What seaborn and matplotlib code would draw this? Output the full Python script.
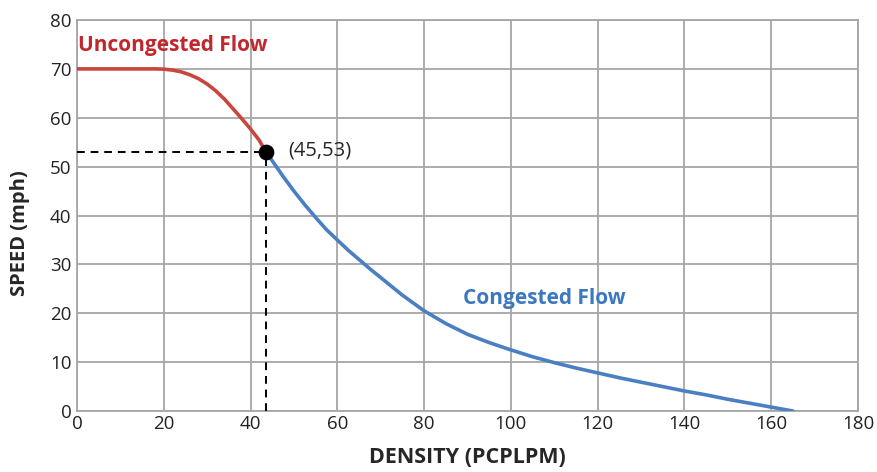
import numpy as np
import pandas as pd
import seaborn as sns
import matplotlib.pyplot as plt

# uncongested branch
red_density = [0, 18, 20, 22, 24, 26, 28, 30, 32, 34, 36, 38, 40, 42, 43.6]
red_speed = [70, 70, 69.95, 69.75, 69.4, 68.8, 68.0, 66.9, 65.5, 63.8, 61.8, 59.8, 57.7, 55.4, 52.9]

# congested branch
blue_density = [43.6, 45, 47.5, 50, 52.5, 55, 57.5, 60, 62.5, 65, 67.5, 70, 75, 80, 85, 90,
                95, 100, 105, 110, 115, 120, 125, 130, 135, 140, 145, 150, 155, 160, 165]
blue_speed = [52.9, 51.2, 48, 45, 42.2, 39.6, 37.1, 35, 32.9, 31, 29.1, 27.3, 23.7, 20.5,
              17.9, 15.7, 14.0, 12.5, 11.1, 9.9, 8.8, 7.8, 6.8, 5.9, 5, 4.1, 3.3, 2.4, 1.6, 0.8, 0]

# critical point
crit_density = [43.6]
crit_speed = [52.9]
crit_label = "(45,53)"

x_ticks = [0, 20, 40, 60, 80, 100, 120, 140, 160, 180]
y_ticks = [0, 10, 20, 30, 40, 50, 60, 70, 80]

sns.set_style("white")
plt.rcParams['font.family'] = ['Open Sans', 'DejaVu Sans']

red = '#C9463F'
blue = '#4A7FC3'
grid_col = '#A6A6A6'

fig = plt.figure(figsize=(8.78, 4.72), dpi=100)
ax = fig.add_axes([0.0877, 0.1292, 0.8895, 0.8284])

red_df = pd.DataFrame({'density': red_density, 'speed': red_speed})
blue_df = pd.DataFrame({'density': blue_density, 'speed': blue_speed})
crit_df = pd.DataFrame({'density': crit_density, 'speed': crit_speed})

# dashed guide lines to the critical point
ax.plot([0, crit_density[0]], [crit_speed[0], crit_speed[0]], color='black', ls=(0, (4, 3)), lw=1.4, zorder=3)
ax.plot([crit_density[0], crit_density[0]], [0, crit_speed[0]], color='black', ls=(0, (4, 3)), lw=1.4, zorder=3)

sns.lineplot(data=red_df, x='density', y='speed', color=red, lw=2.6, ax=ax, zorder=4, sort=False)
sns.lineplot(data=blue_df, x='density', y='speed', color=blue, lw=2.6, ax=ax, zorder=4, sort=False)
sns.scatterplot(data=crit_df, x='density', y='speed', color='black', s=110, edgecolor='black', ax=ax, zorder=5)

ax.text(48.8, crit_speed[0] + 0.3, crit_label, fontsize=14.5, va='center', ha='left')
ax.text(0.2, 74.8, 'Uncongested Flow', color='#C0282D', fontsize=15, fontweight='bold', va='center', ha='left')
ax.text(107.8, 23.0, 'Congested Flow', color='#3C78C0', fontsize=15, fontweight='bold', va='center', ha='center')

ax.set_xlim(0, 180)
ax.set_ylim(0, 80)
ax.set_xticks(x_ticks)
ax.set_yticks(y_ticks)
ax.tick_params(axis='both', length=0, labelsize=13.5, colors='#222222')
ax.tick_params(axis='x', pad=3)
ax.tick_params(axis='y', pad=4)
ax.grid(True, color=grid_col, lw=1.3)
ax.set_axisbelow(True)
for sp in ax.spines.values():
    sp.set_color(grid_col)
    sp.set_linewidth(1.3)

ax.set_xlabel('DENSITY (PCPLPM)', fontsize=15.5, fontweight='bold', labelpad=10)
ax.set_ylabel('SPEED (mph)', fontsize=14.5, fontweight='bold')
ax.yaxis.set_label_coords(-0.06, 0.455)

fig.savefig('out.png', dpi=100)
